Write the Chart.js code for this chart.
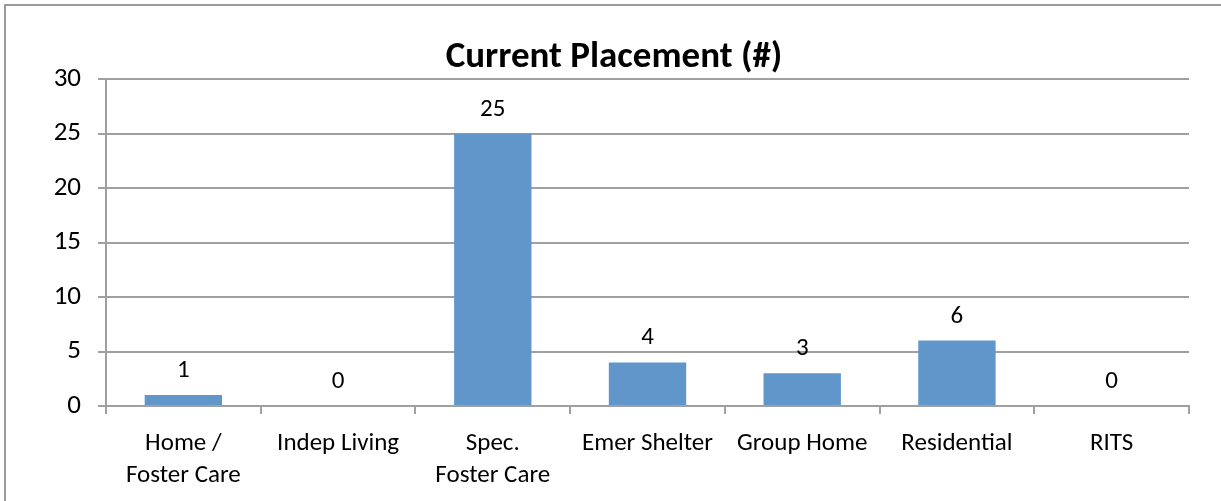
<!DOCTYPE html>
<html>
<head>
  <title>Current Placement</title>
  <script src="https://cdn.jsdelivr.net/npm/chart.js"></script>
  <style>
    body { margin: 0; background: #fff; }
    #wrap { width: 1221px; height: 501px; position: relative; }
  </style>
</head>
<body>
  <div id="wrap">
    <canvas id="placementChart" width="1221" height="501"></canvas>
  </div>

  <script>
    // chart data
    const categories = [['Home /', 'Foster Care'], 'Indep Living', ['Spec.', 'Foster Care'], 'Emer Shelter', 'Group Home', 'Residential', 'RITS'];
    const placementCounts = [1, 0, 25, 4, 3, 6, 0];
    const yTicks = [0, 5, 10, 15, 20, 25, 30];
    const chartTitle = 'Current Placement (#)';

    const fontFamily = 'Carlito, Calibri, Lato, sans-serif';
    const gridGray = '#a0a0a0';

    // outer frame (only top and left show) + title centered on the whole canvas
    const framePlugin = {
      id: 'frame',
      beforeDraw(chart) {
        const ctx = chart.ctx;
        ctx.save();
        ctx.fillStyle = '#fff';
        ctx.fillRect(0, 0, chart.width, chart.height);
        ctx.strokeStyle = '#9a9a9a';
        ctx.lineWidth = 2;
        ctx.strokeRect(5, 5, chart.width + 20, chart.height + 20);
        ctx.font = 'bold 37px ' + fontFamily;
        ctx.fillStyle = '#000';
        ctx.textAlign = 'center';
        ctx.textBaseline = 'middle';
        ctx.fillText(chartTitle, 614, 58);
        ctx.restore();
      }
    };

    // value labels above each bar
    const valueLabels = {
      id: 'valueLabels',
      afterDatasetsDraw(chart) {
        const ctx = chart.ctx;
        ctx.save();
        ctx.font = '25px ' + fontFamily;
        ctx.fillStyle = '#000';
        ctx.textAlign = 'center';
        ctx.textBaseline = 'alphabetic';
        chart.getDatasetMeta(0).data.forEach((bar, i) => {
          ctx.fillText(placementCounts[i], bar.x, bar.y - 18);
        });
        ctx.restore();
      }
    };

    new Chart(document.getElementById('placementChart'), {
      type: 'bar',
      data: {
        labels: categories,
        datasets: [{
          data: placementCounts,
          backgroundColor: '#6196cb',
          categoryPercentage: 1,
          barPercentage: 0.5
        }]
      },
      options: {
        responsive: false,
        animation: false,
        layout: { padding: { left: 0, right: 32, top: 79, bottom: 0 } },
        plugins: {
          legend: { display: false },
          tooltip: { enabled: false },
          title: { display: false }
        },
        scales: {
          x: {
            grid: {
              display: true,
              drawOnChartArea: false,
              drawTicks: true,
              tickLength: 8,
              color: gridGray,
              lineWidth: 2,
              offset: true
            },
            border: { display: true, color: gridGray, width: 2 },
            ticks: {
              color: '#000',
              padding: 14,
              maxRotation: 0,
              autoSkip: false,
              font: { family: fontFamily, size: 25, lineHeight: 1.28 }
            },
            afterFit(scale) { scale.height = 95; }
          },
          y: {
            min: 0,
            max: 30,
            afterBuildTicks(scale) { scale.ticks = yTicks.map(v => ({ value: v })); },
            grid: { color: gridGray, lineWidth: 2, tickLength: 8 },
            border: { display: true, color: gridGray, width: 2 },
            ticks: {
              color: '#000',
              padding: 17,
              font: { family: fontFamily, size: 27 }
            },
            afterFit(scale) { scale.width = 106; }
          }
        }
      },
      plugins: [framePlugin, valueLabels]
    });
  </script>
</body>
</html>
